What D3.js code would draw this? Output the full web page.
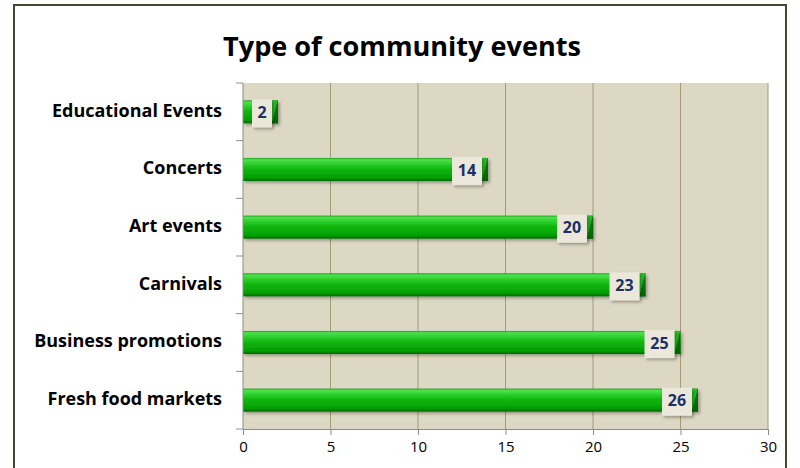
<!DOCTYPE html>
<html>
<head>
<meta charset="utf-8">
<script src="https://cdn.jsdelivr.net/npm/d3@7"></script>
<style>
  html, body { margin: 0; padding: 0; background: #ffffff; }
  svg { display: block; }
</style>
</head>
<body>
<svg id="chart" width="800" height="468"></svg>
<script>
// Community event types and how many of each were reported
const categories = ["Educational Events", "Concerts", "Art events", "Carnivals", "Business promotions", "Fresh food markets"];
const values = [2, 14, 20, 23, 25, 26];
const xTicks = [0, 5, 10, 15, 20, 25, 30];
const title = "Type of community events";

const FONT = "'Open Sans', Lato, sans-serif";
const svg = d3.select("#chart");
const plot = { left: 243, right: 768, top: 83, bottom: 429 };

// Outer frame
svg.append("rect")
  .attr("x", 14).attr("y", 5).attr("width", 772).attr("height", 470)
  .attr("fill", "#ffffff").attr("stroke", "#4a4632").attr("stroke-width", 2);

// Title, sized to its intended width
const titleText = svg.append("text")
  .attr("x", 402).attr("y", 56)
  .attr("text-anchor", "middle")
  .attr("font-family", FONT)
  .attr("font-weight", "bold").attr("font-size", 27)
  .attr("fill", "#000").text(title);
{
  const w = titleText.node().getComputedTextLength();
  titleText.attr("font-size", 27 * 358 / w);
}

const x = d3.scaleLinear().domain([0, 30]).range([plot.left, plot.right]);
const y = d3.scaleBand().domain(categories).range([plot.top, plot.bottom]).paddingInner(0.6).paddingOuter(0.3);

// Plot background
svg.append("rect")
  .attr("x", plot.left).attr("y", plot.top)
  .attr("width", plot.right - plot.left).attr("height", plot.bottom - plot.top)
  .attr("fill", "#ddd8c3");

// Vertical gridlines
svg.append("g").selectAll("line").data(xTicks.slice(1)).join("line")
  .attr("x1", d => x(d)).attr("x2", d => x(d))
  .attr("y1", plot.top).attr("y2", plot.bottom)
  .attr("stroke", "#a39b74").attr("stroke-width", 1);

// Gradients for the bevelled bars
const defs = svg.append("defs");
const g1 = defs.append("linearGradient").attr("id", "barFill").attr("x1", 0).attr("y1", 0).attr("x2", 0).attr("y2", 1);
[[0, "#1f9f1f"], [0.08, "#4fe24f"], [0.25, "#2ecf2e"], [0.5, "#0cb50c"], [0.85, "#04a004"], [1, "#036a03"]]
  .forEach(([o, c]) => g1.append("stop").attr("offset", o).attr("stop-color", c));
const g2 = defs.append("linearGradient").attr("id", "capFill").attr("x1", 0).attr("y1", 0).attr("x2", 1).attr("y2", 1);
[[0, "#2fc92f"], [0.45, "#26b826"], [0.5, "#067a06"], [1, "#045a04"]]
  .forEach(([o, c]) => g2.append("stop").attr("offset", o).attr("stop-color", c));
const shadow = defs.append("filter").attr("id", "shadow").attr("x", -0.2).attr("y", -0.3).attr("width", 1.5).attr("height", 1.8);
shadow.append("feDropShadow").attr("dx", 2).attr("dy", 2).attr("stdDeviation", 1.5)
  .attr("flood-color", "#000").attr("flood-opacity", 0.3);

const capW = 6;
const bars = svg.append("g").selectAll("g").data(categories.map((c, i) => ({ c, v: values[i] }))).join("g");

bars.append("rect")
  .attr("x", x(0)).attr("y", d => y(d.c))
  .attr("width", d => x(d.v) - x(0)).attr("height", y.bandwidth())
  .attr("fill", "url(#barFill)").attr("filter", "url(#shadow)");

// Dark bevel at the end of each bar
bars.append("rect")
  .attr("x", d => x(d.v) - capW).attr("y", d => y(d.c))
  .attr("width", capW).attr("height", y.bandwidth())
  .attr("fill", "url(#capFill)");

// Value labels in boxes near the bar end
const boxW = d => d.v >= 10 ? 30 : 20;
bars.append("rect")
  .attr("x", d => x(d.v) - capW - boxW(d)).attr("y", d => y(d.c) - 1)
  .attr("width", boxW).attr("height", y.bandwidth() + 5)
  .attr("fill", "#ebe7db").attr("filter", "url(#shadow)");
bars.append("text")
  .attr("x", d => x(d.v) - capW - boxW(d) / 2).attr("y", d => y(d.c) + y.bandwidth() / 2 + 2)
  .attr("text-anchor", "middle").attr("dominant-baseline", "middle")
  .attr("font-family", FONT).attr("font-weight", "bold").attr("font-size", 16)
  .attr("fill", "#1b2f66").text(d => d.v);

// Category axis
const yAxis = svg.append("g");
yAxis.append("line").attr("x1", plot.left).attr("x2", plot.left).attr("y1", plot.top).attr("y2", plot.bottom)
  .attr("stroke", "#8c8c8c");
const bounds = d3.range(categories.length + 1).map(i => plot.top + i * (plot.bottom - plot.top) / categories.length);
yAxis.selectAll("line.tick").data(bounds).join("line").attr("class", "tick")
  .attr("x1", plot.left - 7).attr("x2", plot.left).attr("y1", d => d).attr("y2", d => d)
  .attr("stroke", "#8c8c8c");
const catLabels = yAxis.selectAll("text").data(categories).join("text")
  .attr("x", 222).attr("y", d => y(d) + y.bandwidth() / 2)
  .attr("text-anchor", "end").attr("dominant-baseline", "middle")
  .attr("font-family", FONT).attr("font-weight", "bold").attr("font-size", 17)
  .attr("fill", "#000").text(d => d);
{
  // fit the longest label to the left margin
  const w = catLabels.filter(d => d === "Business promotions").node().getComputedTextLength();
  catLabels.attr("font-size", 17 * 188 / w);
}

// Value axis
const xAxis = svg.append("g").attr("transform", `translate(0,${plot.bottom})`)
  .call(d3.axisBottom(x).tickValues(xTicks).tickSize(6).tickSizeOuter(0).tickPadding(6));
xAxis.select(".domain").attr("stroke", "#8c8c8c");
xAxis.selectAll(".tick line").attr("stroke", "#8c8c8c");
xAxis.selectAll(".tick text")
  .attr("font-family", FONT).attr("font-size", 15).attr("fill", "#000");
</script>
</body>
</html>
